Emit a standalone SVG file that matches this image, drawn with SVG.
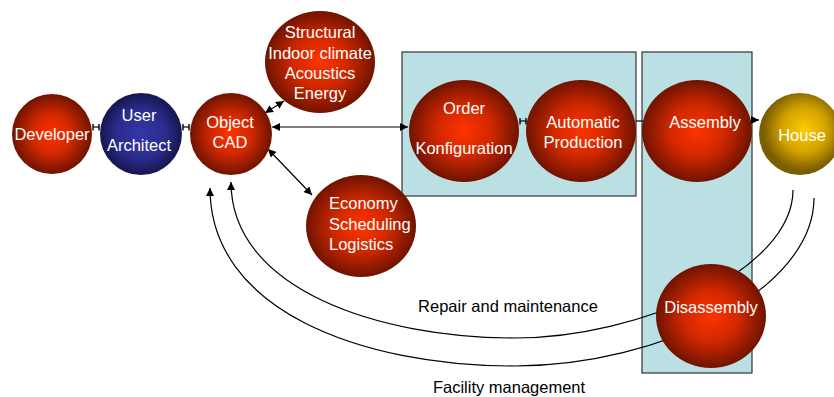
<svg xmlns="http://www.w3.org/2000/svg" width="834" height="397" viewBox="0 0 834 397">
<defs>
<radialGradient id="red" cx="50%" cy="50%" r="50%">
<stop offset="0" stop-color="#FF3300"/>
<stop offset="0.5" stop-color="#D02800"/>
<stop offset="1" stop-color="#701300"/>
</radialGradient>
<radialGradient id="blue" cx="50%" cy="50%" r="50%">
<stop offset="0" stop-color="#3636A8"/>
<stop offset="0.6" stop-color="#2C2C8C"/>
<stop offset="1" stop-color="#16164F"/>
</radialGradient>
<radialGradient id="gold" cx="55%" cy="45%" r="50%">
<stop offset="0" stop-color="#FFCC00"/>
<stop offset="0.55" stop-color="#D4A200"/>
<stop offset="1" stop-color="#7A5E00"/>
</radialGradient>
<marker id="arr" viewBox="0 0 10 10" refX="10" refY="5" markerWidth="8" markerHeight="8" markerUnits="userSpaceOnUse" orient="auto-start-reverse">
<path d="M0,0 L10,5 L0,10 z" fill="#000"/>
</marker>
<marker id="tick" viewBox="0 0 2 10" refX="1" refY="5" markerWidth="2" markerHeight="7" markerUnits="userSpaceOnUse" orient="auto">
<rect x="0" y="0" width="2" height="10" fill="#000"/>
</marker>
</defs>
<style>
.box{fill:#BBE0E3;stroke:#333;stroke-width:1.2}
.t{font-family:"Liberation Sans",Arial,sans-serif;font-size:16.5px;fill:#fff;text-anchor:middle}
.tl{font-family:"Liberation Sans",Arial,sans-serif;font-size:16.5px;fill:#fff}
.lab{font-family:"Liberation Sans",Arial,sans-serif;font-size:16.5px;fill:#000;text-anchor:middle}
.c{fill:none;stroke:#000;stroke-width:1.2}
</style>
<rect width="834" height="397" fill="#fff"/>
<g id="boxes">
<rect class="box" x="402" y="52" width="234" height="144"/>
<rect class="box" x="642" y="52" width="110" height="321"/>
</g>
<g id="connectors">
<line class="c" x1="93" y1="127" x2="99" y2="127" marker-start="url(#tick)" marker-end="url(#tick)"/>
<line class="c" x1="183" y1="127" x2="189" y2="127" marker-start="url(#tick)" marker-end="url(#tick)"/>
<line class="c" x1="520" y1="121" x2="526" y2="121" marker-start="url(#tick)" marker-end="url(#tick)"/>
<line class="c" x1="636" y1="121" x2="643" y2="121"/>
<line class="c" x1="752" y1="120" x2="759" y2="120" marker-end="url(#arr)"/>
<line class="c" x1="272" y1="127" x2="408" y2="127" marker-start="url(#arr)" marker-end="url(#arr)"/>
<line class="c" x1="265" y1="113" x2="284" y2="101" marker-start="url(#arr)" marker-end="url(#arr)"/>
<line class="c" x1="268" y1="149" x2="312" y2="195" marker-start="url(#arr)" marker-end="url(#arr)"/>
<path class="c" d="M793,190 C793,270 640,338 515,338 C380,338 231,290 231,182" marker-end="url(#arr)"/>
<path class="c" d="M814,198 C814,290 660,366 515,366 C360,366 210,310 210,188" marker-end="url(#arr)"/>
</g>
<g id="developer">
<circle cx="52" cy="134" r="40" fill="url(#red)"/>
<text class="t" x="52" y="140">Developer</text>
</g>
<g id="user-architect">
<circle cx="141" cy="134" r="41" fill="url(#blue)"/>
<text class="t" x="139" y="121">User</text>
<text class="t" x="139" y="151">Architect</text>
</g>
<g id="object-cad">
<circle cx="231" cy="134" r="41" fill="url(#red)"/>
<text class="t" x="230" y="128">Object</text>
<text class="t" x="230" y="148">CAD</text>
</g>
<g id="structural">
<ellipse cx="320" cy="62" rx="55" ry="51" fill="url(#red)"/>
<text class="t" x="320" y="38">Structural</text>
<text class="t" x="320" y="59">Indoor climate</text>
<text class="t" x="320" y="79">Acoustics</text>
<text class="t" x="320" y="99">Energy</text>
</g>
<g id="economy">
<ellipse cx="361" cy="226" rx="55" ry="51" fill="url(#red)"/>
<text class="tl" x="329" y="209">Economy</text>
<text class="tl" x="329" y="230">Scheduling</text>
<text class="tl" x="329" y="250">Logistics</text>
</g>
<g id="order">
<ellipse cx="464" cy="131" rx="55" ry="51" fill="url(#red)"/>
<text class="t" x="464" y="114">Order</text>
<text class="t" x="464" y="154">Konfiguration</text>
</g>
<g id="production">
<ellipse cx="581" cy="131" rx="55" ry="51" fill="url(#red)"/>
<text class="t" x="583" y="128">Automatic</text>
<text class="t" x="583" y="148">Production</text>
</g>
<g id="assembly">
<ellipse cx="697" cy="131" rx="55" ry="51" fill="url(#red)"/>
<text class="t" x="705" y="128">Assembly</text>
</g>
<g id="house">
<circle cx="800" cy="134" r="41" fill="url(#gold)"/>
<text class="t" x="802" y="141">House</text>
</g>
<g id="disassembly">
<ellipse cx="711" cy="316" rx="55" ry="52" fill="url(#red)"/>
<text class="t" x="711" y="313">Disassembly</text>
</g>
<g id="labels">
<text class="lab" x="508" y="312">Repair and maintenance</text>
<text class="lab" x="509" y="393">Facility management</text>
</g>
</svg>
